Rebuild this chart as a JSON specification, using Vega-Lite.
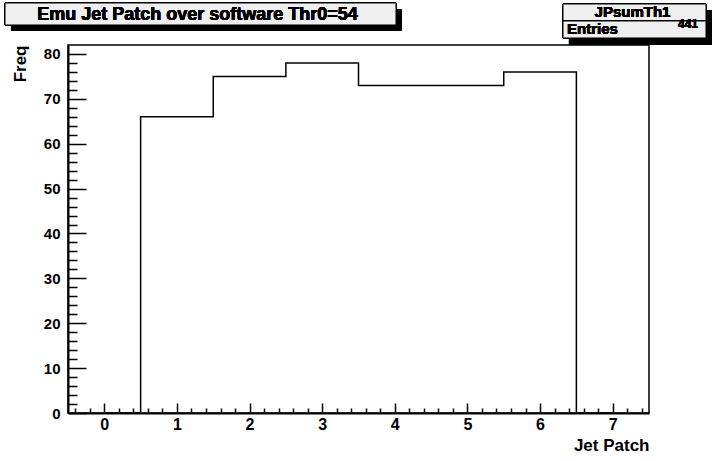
{
  "$schema": "https://vega.github.io/schema/vega-lite/v6.json",
  "width": 581,
  "height": 368,
  "autosize": {"type": "none"},
  "padding": {"left": 68, "top": 45, "right": 72, "bottom": 48},
  "background": "white",
  "config": {
    "view": {"stroke": "black", "strokeWidth": 1.5},
    "font": "Liberation Sans"
  },
  "data": {
    "values": [
      {"patch": 0, "count": 0},
      {"patch": 1, "count": 66},
      {"patch": 2, "count": 75},
      {"patch": 3, "count": 78},
      {"patch": 4, "count": 73},
      {"patch": 5, "count": 73},
      {"patch": 6, "count": 76},
      {"patch": 7, "count": 0}
    ]
  },
  "resolve": {"axis": {"x": "independent", "y": "independent"}},
  "layer": [
    {
      "mark": {"type": "line", "interpolate": "step", "color": "black", "strokeWidth": 1.5},
      "encoding": {
        "x": {
          "field": "patch", "type": "quantitative",
          "scale": {"domain": [-0.5, 7.5], "nice": false, "zero": false},
          "axis": {
            "orient": "bottom", "values": [0, 1, 2, 3, 4, 5, 6, 7], "ticks": false,
            "domain": true, "domainColor": "black", "domainWidth": 2,
            "labelFont": "Liberation Sans", "labelFontWeight": "bold", "labelFontSize": 16,
            "labelColor": "black", "labelPadding": 3, "grid": false,
            "title": "Jet Patch", "titleAnchor": "end", "titleFont": "Liberation Sans",
            "titleFontWeight": "bold", "titleFontSize": 17, "titleColor": "black", "titlePadding": 5
          }
        },
        "y": {
          "field": "count", "type": "quantitative",
          "scale": {"domain": [0, 82], "nice": false, "zero": false},
          "axis": {
            "orient": "left", "values": [0, 10, 20, 30, 40, 50, 60, 70, 80], "ticks": false,
            "domain": true, "domainColor": "black", "domainWidth": 2,
            "labelFont": "Liberation Sans", "labelFontWeight": "bold", "labelFontSize": 15,
            "labelColor": "black", "labelPadding": 8, "grid": false,
            "title": "Freq", "titleAnchor": "end", "titleFont": "Liberation Sans",
            "titleFontWeight": "bold", "titleFontSize": 17, "titleColor": "black", "titlePadding": 14
          }
        }
      }
    },
    {
      "mark": {"type": "line", "interpolate": "step", "strokeOpacity": 0},
      "encoding": {
        "x": {
          "field": "patch", "type": "quantitative",
          "scale": {"domain": [-0.5, 7.5], "nice": false, "zero": false},
          "axis": {
            "orient": "top", "offset": -368, "values": [0, 1, 2, 3, 4, 5, 6, 7], "labels": false, "domain": false,
            "grid": false, "title": null, "tickSize": 10, "tickWidth": 1.5, "tickColor": "black"
          }
        },
        "y": {
          "field": "count", "type": "quantitative",
          "scale": {"domain": [0, 82], "nice": false, "zero": false},
          "axis": {
            "orient": "right", "offset": -581, "values": [0, 10, 20, 30, 40, 50, 60, 70, 80], "labels": false, "domain": false,
            "grid": false, "title": null, "tickSize": 18, "tickWidth": 1.5, "tickColor": "black"
          }
        }
      }
    },
    {
      "mark": {"type": "line", "interpolate": "step", "strokeOpacity": 0},
      "encoding": {
        "x": {
          "field": "patch", "type": "quantitative",
          "scale": {"domain": [-0.5, 7.5], "nice": false, "zero": false},
          "axis": {
            "orient": "top", "offset": -368,
            "values": [-0.4, -0.2, 0.2, 0.4, 0.6, 0.8, 1.2, 1.4, 1.6, 1.8, 2.2, 2.4, 2.6, 2.8, 3.2, 3.4, 3.6, 3.8, 4.2, 4.4, 4.6, 4.8, 5.2, 5.4, 5.6, 5.8, 6.2, 6.4, 6.6, 6.8, 7.2, 7.4],
            "labels": false, "domain": false,
            "grid": false, "title": null, "tickSize": 5, "tickWidth": 1.5, "tickColor": "black"
          }
        },
        "y": {
          "field": "count", "type": "quantitative",
          "scale": {"domain": [0, 82], "nice": false, "zero": false},
          "axis": {
            "orient": "right", "offset": -581,
            "values": [2, 4, 6, 8, 12, 14, 16, 18, 22, 24, 26, 28, 32, 34, 36, 38, 42, 44, 46, 48, 52, 54, 56, 58, 62, 64, 66, 68, 72, 74, 76, 78],
            "labels": false, "domain": false,
            "grid": false, "title": null, "tickSize": 9, "tickWidth": 1.5, "tickColor": "black"
          }
        }
      }
    },
    {
      "mark": {"type": "rect", "fill": "black"},
      "encoding": {
        "x": {"datum": -1.285, "type": "quantitative", "scale": {"domain": [-0.5, 7.5], "nice": false, "zero": false}, "axis": null},
        "x2": {"datum": 4.099},
        "y": {"datum": 90.02, "type": "quantitative", "scale": {"domain": [0, 82], "nice": false, "zero": false}, "axis": null},
        "y2": {"datum": 85.12}
      }
    },
    {
      "mark": {"type": "rect", "fill": "#efefef", "stroke": "black", "strokeWidth": 1},
      "encoding": {
        "x": {"datum": -1.3675, "type": "quantitative", "scale": {"domain": [-0.5, 7.5], "nice": false, "zero": false}, "axis": null},
        "x2": {"datum": 4.0164},
        "y": {"datum": 91.36, "type": "quantitative", "scale": {"domain": [0, 82], "nice": false, "zero": false}, "axis": null},
        "y2": {"datum": 86.46}
      }
    },
    {
      "mark": {"type": "text", "align": "center", "baseline": "alphabetic", "font": "Liberation Sans", "fontWeight": "bold", "fontSize": 18, "color": "black"},
      "encoding": {
        "x": {"datum": 1.283, "type": "quantitative", "scale": {"domain": [-0.5, 7.5], "nice": false, "zero": false}, "axis": null},
        "y": {"datum": 87.57, "type": "quantitative", "scale": {"domain": [0, 82], "nice": false, "zero": false}, "axis": null},
        "text": {"value": "Emu Jet Patch over software Thr0=54"}
      }
    },
    {
      "mark": {"type": "rect", "fill": "black"},
      "encoding": {
        "x": {"datum": 6.398, "type": "quantitative", "scale": {"domain": [-0.5, 7.5], "nice": false, "zero": false}, "axis": null},
        "x2": {"datum": 8.367},
        "y": {"datum": 89.8, "type": "quantitative", "scale": {"domain": [0, 82], "nice": false, "zero": false}, "axis": null},
        "y2": {"datum": 82.0}
      }
    },
    {
      "mark": {"type": "rect", "fill": "#efefef", "stroke": "black", "strokeWidth": 1},
      "encoding": {
        "x": {"datum": 6.3158, "type": "quantitative", "scale": {"domain": [-0.5, 7.5], "nice": false, "zero": false}, "axis": null},
        "x2": {"datum": 8.2849},
        "y": {"datum": 91.14, "type": "quantitative", "scale": {"domain": [0, 82], "nice": false, "zero": false}, "axis": null},
        "y2": {"datum": 87.35}
      }
    },
    {
      "mark": {"type": "rect", "fill": "#efefef", "stroke": "black", "strokeWidth": 1},
      "encoding": {
        "x": {"datum": 6.3158, "type": "quantitative", "scale": {"domain": [-0.5, 7.5], "nice": false, "zero": false}, "axis": null},
        "x2": {"datum": 8.2849},
        "y": {"datum": 87.35, "type": "quantitative", "scale": {"domain": [0, 82], "nice": false, "zero": false}, "axis": null},
        "y2": {"datum": 83.56}
      }
    },
    {
      "mark": {"type": "text", "align": "center", "baseline": "alphabetic", "font": "Liberation Sans", "fontWeight": "bold", "fontSize": 15, "color": "black"},
      "encoding": {
        "x": {"datum": 7.2728, "type": "quantitative", "scale": {"domain": [-0.5, 7.5], "nice": false, "zero": false}, "axis": null},
        "y": {"datum": 88.13, "type": "quantitative", "scale": {"domain": [0, 82], "nice": false, "zero": false}, "axis": null},
        "text": {"value": "JPsumTh1"}
      }
    },
    {
      "mark": {"type": "text", "align": "left", "baseline": "alphabetic", "font": "Liberation Sans", "fontWeight": "bold", "fontSize": 15, "color": "black"},
      "encoding": {
        "x": {"datum": 6.3708, "type": "quantitative", "scale": {"domain": [-0.5, 7.5], "nice": false, "zero": false}, "axis": null},
        "y": {"datum": 84.34, "type": "quantitative", "scale": {"domain": [0, 82], "nice": false, "zero": false}, "axis": null},
        "text": {"value": "Entries"}
      }
    },
    {
      "mark": {"type": "text", "align": "right", "baseline": "alphabetic", "font": "Liberation Sans", "fontWeight": "bold", "fontSize": 12, "color": "black"},
      "encoding": {
        "x": {"datum": 8.1747, "type": "quantitative", "scale": {"domain": [-0.5, 7.5], "nice": false, "zero": false}, "axis": null},
        "y": {"datum": 85.72, "type": "quantitative", "scale": {"domain": [0, 82], "nice": false, "zero": false}, "axis": null},
        "text": {"value": "441"}
      }
    }
  ]
}
